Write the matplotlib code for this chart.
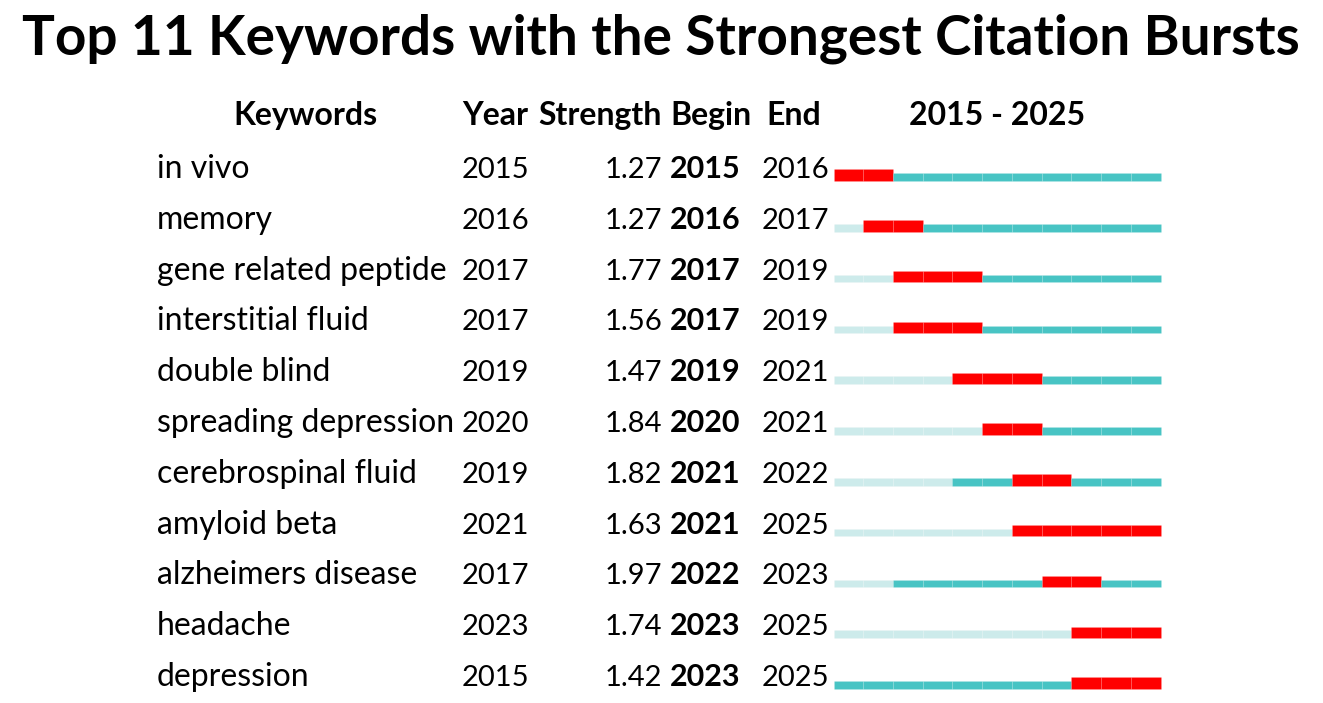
import matplotlib
matplotlib.use('Agg')
import matplotlib.pyplot as plt

plt.rcParams['font.family'] = ['Lato', 'DejaVu Sans']

keywords = ['in vivo', 'memory', 'gene related peptide', 'interstitial fluid',
            'double blind', 'spreading depression', 'cerebrospinal fluid',
            'amyloid beta', 'alzheimers disease', 'headache', 'depression']
year = [2015, 2016, 2017, 2017, 2019, 2020, 2019, 2021, 2017, 2023, 2015]
strength = [1.27, 1.27, 1.77, 1.56, 1.47, 1.84, 1.82, 1.63, 1.97, 1.74, 1.42]
begin = [2015, 2016, 2017, 2017, 2019, 2020, 2021, 2021, 2022, 2023, 2023]
end = [2016, 2017, 2019, 2019, 2021, 2021, 2022, 2025, 2023, 2025, 2025]
first_year, last_year = 2015, 2025

light = '#cdebeb'
teal = '#48c4c4'
red = '#ff0000'

W, H = 1323, 703
fig = plt.figure(figsize=(W / 100, H / 100), dpi=100)
ax = fig.add_axes([0, 0, 1, 1])
ax.axis('off')

# one row = 50.8 px, one year = 29.73 px
row_px = 50.8
yr_px = 29.73
y0_px = 180.7
x0_px = 833.5
ax.set_ylim((H - y0_px) / row_px, -y0_px / row_px)
ax.set_xlim(first_year - x0_px / yr_px, first_year + (W - x0_px) / yr_px)

thin = 7.5 / row_px
thick = 11.4 / row_px

for i in range(len(keywords)):
    for y in range(first_year, last_year + 1):
        if begin[i] <= y <= end[i]:
            c, h = red, thick
        elif y < year[i]:
            c, h = light, thin
        else:
            c, h = teal, thin
        ax.barh(i - h / 2, 1, left=y, height=h, color=c,
                edgecolor=(1, 1, 1, 0.1), linewidth=0.6)

tr = ax.get_yaxis_transform()
kfs = 23
nfs = 21
base = -2.7 / row_px
for i in range(len(keywords)):
    yy = i + base
    ax.text(157 / W, yy, keywords[i], transform=tr, fontsize=kfs, va='baseline', ha='left')
    ax.text(462 / W, yy, str(year[i]), transform=tr, fontsize=nfs, va='baseline', ha='left')
    ax.text(662 / W, yy, '%.2f' % strength[i], transform=tr, fontsize=nfs, va='baseline', ha='right')
    ax.text(670 / W, yy, str(begin[i]), transform=tr, fontsize=22, va='baseline', ha='left',
            fontweight='bold')
    ax.text(762 / W, yy, str(end[i]), transform=tr, fontsize=nfs, va='baseline', ha='left')

hy = (125 - y0_px) / row_px
hfs = 23
ax.text(305 / W, hy, 'Keywords', transform=tr, fontsize=hfs, fontweight='bold', va='baseline', ha='center')
ax.text(462 / W, hy, 'Year', transform=tr, fontsize=hfs, fontweight='bold', va='baseline', ha='left')
ax.text(662 / W, hy, 'Strength', transform=tr, fontsize=hfs, fontweight='bold', va='baseline', ha='right')
ax.text(670 / W, hy, 'Begin', transform=tr, fontsize=hfs, fontweight='bold', va='baseline', ha='left')
ax.text(766 / W, hy, 'End', transform=tr, fontsize=hfs, fontweight='bold', va='baseline', ha='left')
ax.text(997 / W, hy, '%d - %d' % (first_year, last_year), transform=tr, fontsize=hfs,
        fontweight='bold', va='baseline', ha='center')

ty = (54 - y0_px) / row_px
ax.text(661 / W, ty, 'Top %d Keywords with the Strongest Citation Bursts' % len(keywords),
        transform=tr, fontsize=39.5, fontweight='bold', va='baseline', ha='center')

fig.savefig('out.png', dpi=100)
